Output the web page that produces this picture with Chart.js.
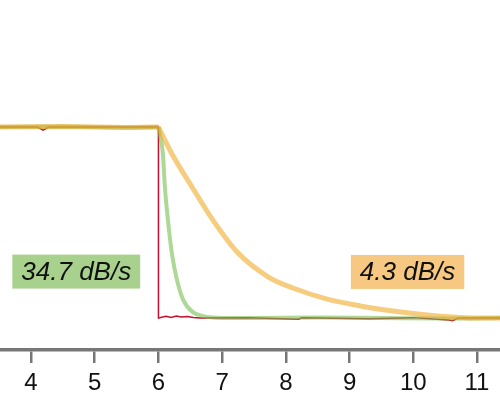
<!DOCTYPE html>
<html>
<head>
<meta charset="utf-8">
<script src="https://cdn.jsdelivr.net/npm/chart.js@4"></script>
<style>
  html, body { margin: 0; padding: 0; background: #fff; }
  #wrap { width: 500px; height: 393px; }
</style>
</head>
<body>
<div id="wrap"><canvas id="chart"></canvas></div>
<script>
// time in seconds, level in arbitrary units (100 = start, 0 = floor)
const redX = [3.5, 4.1, 4.19, 4.28, 6.0, 6.0, 6.05, 6.12, 6.2, 6.28, 6.36, 6.45, 6.55, 6.65, 7.4, 8.2, 8.25, 9.3, 10.0, 10.55, 10.62, 10.7, 11.4];
const redY = [100, 100, 98.4, 100, 100, 0, 0.4, 0.9, 0.3, 1.0, 0.5, 0.8, 0.3, 0, 0.2, -0.6, 0.1, -0.4, 0.2, -1.0, -1.4, 0, 0];

// flat part before the cut-off, shared by green and orange
const holdX = [3.5, 4.5, 5.5, 6.0];
const holdY = [100, 100.3, 99.8, 100];

const greenX = [6.0, 6.07, 6.1, 6.15, 6.21, 6.29, 6.39, 6.54, 6.7, 6.9, 7.5, 8.5, 9.5, 10.5, 11.4];
const greenY = [100, 86, 69, 51, 34, 20, 9.4, 3.1, 1, 0.2, 0, 0.3, 0, -0.3, 0];

const orangeX = [6.0, 6.21, 6.52, 6.86, 7.25, 7.72, 8.11, 8.65, 9.17, 9.68, 10.22, 10.62, 11.0, 11.4];
const orangeY = [100, 86, 69, 51, 34, 21.6, 15.7, 9.9, 6.3, 3.7, 1.6, 0.5, 0, 0];

const xTicks = [4, 5, 6, 7, 8, 9, 10, 11];

const noteText = ["34.7 dB/s", "4.3 dB/s"];
const noteX = [4.71, 9.91];
const noteY = [24.3, 24.1];
const noteColor = ["#a9d18e", "#f6c882"];

const orange = 'rgba(240, 170, 40, 0.6)';
const green = 'rgba(120, 190, 80, 0.6)';

function pts(xs, ys) {
    return xs.map((x, i) => ({ x: x, y: ys[i] }));
}

// draws the two rate boxes
const notes = {
    id: 'notes',
    afterDatasetsDraw(chart) {
        const ctx = chart.ctx;
        const sx = chart.scales.x, sy = chart.scales.y;
        ctx.save();
        ctx.font = 'italic 26px "Liberation Sans", Arial, sans-serif';
        ctx.textAlign = 'center';
        ctx.textBaseline = 'middle';
        for (let i = 0; i < noteText.length; i++) {
            const cx = sx.getPixelForValue(noteX[i]);
            const cy = sy.getPixelForValue(noteY[i]);
            const w = ctx.measureText(noteText[i]).width + 18;
            const h = 34;
            ctx.fillStyle = noteColor[i];
            ctx.fillRect(cx - w / 2, cy - h / 2, w, h);
            ctx.fillStyle = '#111';
            ctx.fillText(noteText[i], cx, cy + 1);
        }
        ctx.restore();
    }
};

new Chart(document.getElementById('chart'), {
    type: 'line',
    data: {
        datasets: [
            { data: pts(orangeX, orangeY), borderColor: orange, borderWidth: 5, cubicInterpolationMode: 'monotone', pointRadius: 0 },
            { data: pts(holdX, holdY), borderColor: orange, borderWidth: 5, pointRadius: 0 },
            { data: pts(greenX, greenY), borderColor: green, borderWidth: 4, cubicInterpolationMode: 'monotone', pointRadius: 0 },
            { data: pts(holdX, holdY), borderColor: green, borderWidth: 4, pointRadius: 0 },
            { data: pts(redX, redY), borderColor: '#c8102e', borderWidth: 1.5, tension: 0, pointRadius: 0 }
        ]
    },
    options: {
        responsive: true,
        maintainAspectRatio: false,
        animation: false,
        layout: { padding: 0 },
        plugins: { legend: { display: false }, tooltip: { enabled: false } },
        scales: {
            x: {
                type: 'linear',
                min: 3.513,
                max: 11.361,
                afterBuildTicks: (axis) => { axis.ticks = xTicks.map(v => ({ value: v })); },
                afterFit: (axis) => { axis.height = 43; },
                ticks: {
                    includeBounds: false,
                    color: '#111',
                    padding: 8,
                    maxRotation: 0,
                    font: { family: '"Liberation Sans", Arial, sans-serif', size: 24, lineHeight: 1 }
                },
                grid: {
                    drawOnChartArea: false,
                    drawTicks: true,
                    tickLength: 13,
                    color: '#777',
                    lineWidth: 2.5
                },
                border: { color: '#777', width: 3.5 }
            },
            y: {
                display: false,
                min: -16.75,
                max: 166.5
            }
        }
    },
    plugins: [notes]
});
</script>
</body>
</html>
